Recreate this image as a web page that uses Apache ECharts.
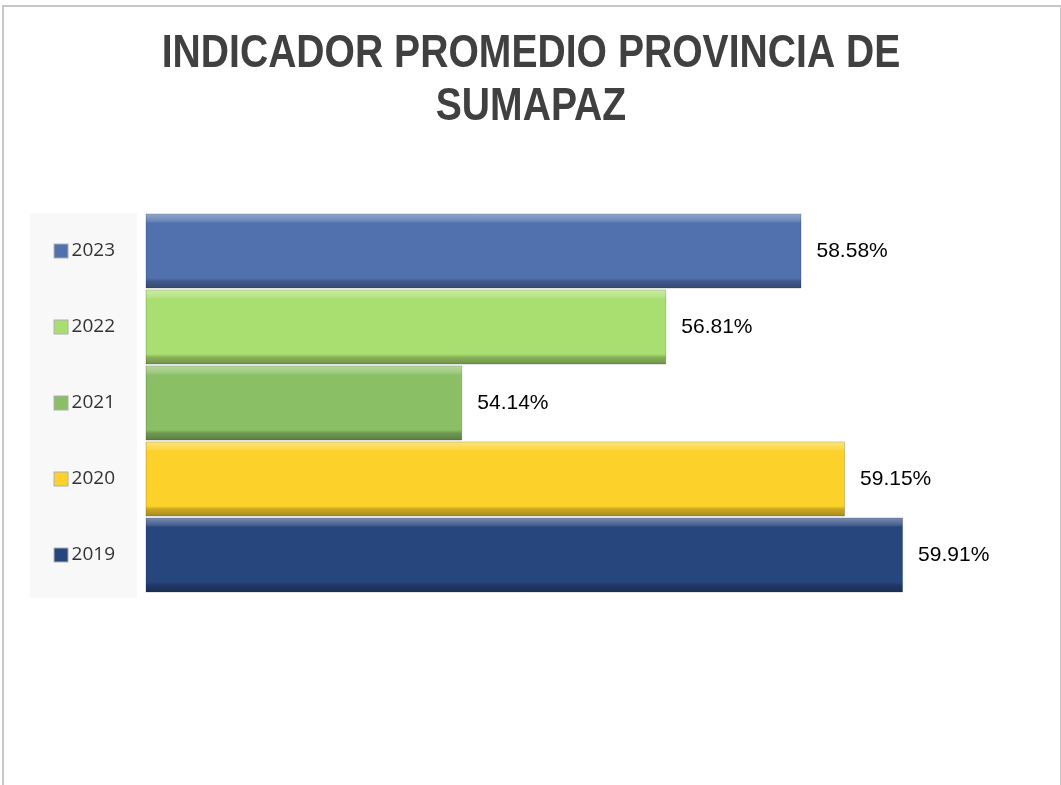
<!DOCTYPE html>
<html>
<head>
<meta charset="utf-8">
<script src="https://cdn.jsdelivr.net/npm/echarts@6/dist/echarts.min.js"></script>
<style>
    html, body { margin: 0; padding: 0; background: #fff; }
    #chart { width: 1061px; height: 785px; }
</style>
</head>
<body>
<div id="chart"></div>
<script>
const titleLines = ['INDICADOR PROMEDIO PROVINCIA DE', 'SUMAPAZ'];
const years = ['2019', '2020', '2021', '2022', '2023'];
const indicador = [59.91, 59.15, 54.14, 56.81, 58.58];
const barColors = ['#28467e', '#fcd12a', '#8abf65', '#a9df70', '#5171ae'];

// bevel look: light top edge, darker bottom edge
const shade = (hex, amt) => {
    const n = parseInt(hex.slice(1), 16);
    const f = c => Math.max(0, Math.min(255, Math.round(c + amt * (amt > 0 ? 255 - c : c))));
    const r = f(n >> 16), g = f((n >> 8) & 255), b = f(n & 255);
    return 'rgb(' + r + ',' + g + ',' + b + ')';
};
const bevel = hex => new echarts.graphic.LinearGradient(0, 0, 0, 1, [
    {offset: 0, color: shade(hex, 0.4)},
    {offset: 0.1, color: shade(hex, 0.15)},
    {offset: 0.13, color: hex},
    {offset: 0.86, color: hex},
    {offset: 0.9, color: shade(hex, -0.2)},
    {offset: 1, color: shade(hex, -0.35)},
]);

const rich = {txt: {fontFamily: 'Open Sans', fontSize: 19, color: '#333', padding: [0, 0, 0, 4]}};
years.forEach((y, i) => {
    rich['m' + i] = {width: 13, height: 13, backgroundColor: barColors[i], borderColor: '#b0b0b0', borderWidth: 1};
});

// condensed bold title (narrow font is not installed, so squeeze it)
const titleText = titleLines.map((t, i) => ({
    type: 'text',
    x: 531,
    y: 31 + i * 53,
    scaleX: 0.85,
    style: {
        text: t,
        textAlign: 'center',
        textVerticalAlign: 'top',
        font: 'bold 46px "Liberation Sans", Arial',
        fill: '#404040',
    },
}));

const myChart = echarts.init(document.getElementById('chart'));
myChart.setOption({
    animation: false,
    graphic: [
        {type: 'rect', left: 0.5, top: 3.5, shape: {width: 1058, height: 780}, style: {fill: 'none', stroke: '#c8c8c8', lineWidth: 2}, z: -1},
        {type: 'rect', left: 30, top: 213, shape: {width: 107, height: 385}, style: {fill: '#f8f8f8'}, z: -1},
        ...titleText,
    ],
    grid: {left: 146, right: 151, top: 213, bottom: 192},
    xAxis: {
        type: 'value',
        min: 50,
        max: 60,
        show: false,
    },
    yAxis: {
        type: 'category',
        data: years,
        axisLine: {show: false},
        axisTick: {show: false},
        axisLabel: {
            margin: 31,
            formatter: (v, i) => '{m' + i + '|}{txt|' + v + '}',
            rich: rich,
        },
    },
    series: [{
        type: 'bar',
        barCategoryGap: '1%',
        data: indicador.map((v, i) => ({
            value: v,
            itemStyle: {color: bevel(barColors[i]), borderColor: 'rgba(0,0,0,0.18)', borderWidth: 1},
        })),
        label: {
            show: true,
            position: 'right',
            distance: 15,
            formatter: p => p.value.toFixed(2) + '%',
            fontFamily: 'Liberation Sans, Arial',
            fontSize: 21,
            color: '#000',
        },
    }],
});
</script>
</body>
</html>
